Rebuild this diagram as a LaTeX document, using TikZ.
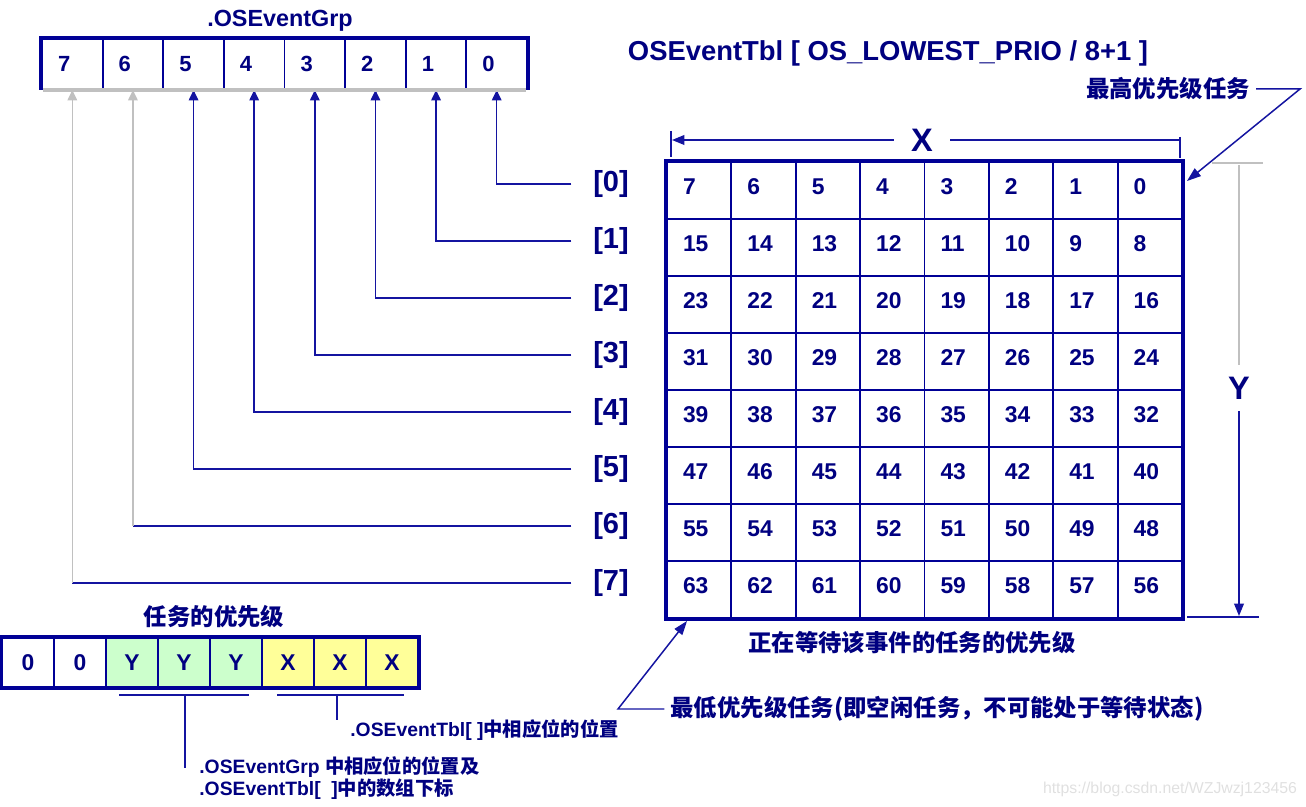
\documentclass[tikz,border=0pt]{standalone}
\usepackage{fontspec}
\setmainfont{Liberation Sans}
\newfontfamily\cjk{Noto Sans CJK SC}
\usetikzlibrary{arrows.meta,positioning}
\definecolor{osblue}{RGB}{0,0,128}
\definecolor{osline}{RGB}{20,20,160}
\definecolor{osborder}{RGB}{0,0,150}
\definecolor{osgray}{RGB}{192,192,192}
\definecolor{osgreen}{RGB}{204,255,204}
\definecolor{osyellow}{RGB}{255,255,153}

\begin{document}
\begin{tikzpicture}[
  x=0.02cm,y=-0.02cm,
  font=\bfseries,text=osblue,
  grpcell/.style={draw=osborder,line width=1.1pt,minimum width=1.2125cm,minimum height=1cm,
                  inner xsep=0.32cm,text width=0.5725cm,align=left,
                  font=\bfseries\fontsize{12.5}{15}\selectfont},
  tblcell/.style={draw=osborder,line width=1.1pt,minimum width=1.2875cm,minimum height=1.14cm,
                  inner xsep=0.32cm,text width=0.6475cm,align=left,text depth=0.16cm,
                  font=\bfseries\fontsize{13}{15}\selectfont},
  pricell/.style={draw=osborder,line width=1.1pt,minimum width=1.04cm,minimum height=0.98cm,
                  font=\bfseries\fontsize{13}{15}\selectfont},
  rowlbl/.style={inner sep=0pt,font=\bfseries\fontsize{16.5}{18}\selectfont},
  dimlbl/.style={inner xsep=0.34cm,inner ysep=0.23cm,font=\bfseries\fontsize{18.5}{20}\selectfont},
  lbl/.style={font=\bfseries\fontsize{13.3}{16}\selectfont},
  titlelbl/.style={font=\bfseries\fontsize{15.6}{18}\selectfont},
  zhlbl/.style={font=\bfseries\cjk\fontsize{13.3}{16}\selectfont},
  note/.style={inner sep=0pt,align=left,font=\bfseries\fontsize{11}{13}\selectfont},
  outerline/.style={draw=osborder,line width=2.3pt},
  bluewire/.style={draw=osline,line width=0.85pt},
  graywire/.style={draw=osgray,line width=0.85pt},
  bitarrow/.style={bluewire,-{Triangle[length=6pt,width=5.5pt]}},
  grayarrow/.style={graywire,-{Triangle[length=6pt,width=5.5pt]}},
  dimarrow/.style={bluewire,-{Triangle[length=7pt,width=5.5pt]}},
  annarrow/.style={bluewire,-{Triangle[length=8pt,width=5.5pt]}}
]
\useasboundingbox (0,0) rectangle (1306,807);

% OSEventGrp
\foreach \b in {0,...,7}
  \node[grpcell] (g\b) at ({42+60.625*(7.5-\b)},64) {\b};
\draw[outerline] (g7.south west) -- (g7.north west) -- (g0.north east) -- (g0.south east);
\node[lbl] (grpname) at (280,21) {.OSEventGrp};

% OSEventTbl
\foreach \r in {0,...,7}
  \foreach \c in {0,...,7}{
    \pgfmathtruncatemacro{\n}{8*\r+7-\c}
    \node[tblcell] (tc\n) at ({667+64.375*(\c+0.5)},{162+57*(\r+0.5)}) {\n};
  }
\draw[outerline] (tc7.north west) rectangle (tc56.south east);
\node[titlelbl] (tblname) at (888,53) {OSEventTbl [ OS\_LOWEST\_PRIO / 8+1 ]};

% row index and links to the group bits
\foreach \k in {0,...,7}
  \node[rowlbl] (row\k) at (611,{184+57*\k}) {[\k]};
\foreach \k in {0,...,5}
  \draw[bitarrow,shorten <=0.43cm] (row\k.west) -| (g\k.south);
\foreach \k in {6,7}{
  \coordinate (turn\k) at (g\k.south |- row\k.west);
  \draw[bluewire,shorten <=0.43cm] (row\k.west) -- (turn\k);
  \draw[grayarrow] (turn\k) -- (g\k.south);
}
\draw[osgray,line width=2.6pt,shorten <=1.1pt,shorten >=1.1pt] (g7.south west) -- (g0.south east);

% X and Y
\node[dimlbl] (xdim) at (922,140) {X};
\coordinate (xdl) at (672,140);
\coordinate (xdr) at (1180,140);
\draw[dimarrow] (xdim) -- (xdl);
\draw[bluewire] (xdim) -- (xdr);
\draw[bluewire] (671,131) -- (671,157);
\draw[bluewire] (1180,137) -- (1180,158);
\node[dimlbl] (ydim) at (1239,388) {Y};
\coordinate (ydt) at (1239,165);
\coordinate (ydb) at (1239,616);
\draw[graywire] (ydim) -- (ydt);
\draw[dimarrow] (ydim) -- (ydb);
\draw[graywire] (1212,163) -- (1263,163);
\draw[bluewire] (1187,617) -- (1259,617);

% notes on the table
\node[zhlbl] (hinote) at (1168,89) {最高优先级任务};
\coordinate (hibend) at (1300,89);
\draw[annarrow] (hinote.east) -- (hibend) -- ([xshift=0.08cm,yshift=-0.4cm]tc0.north east);
\node[zhlbl] (waitnote) at (912,643) {正在等待该事件的任务的优先级};
\node[zhlbl] (lonote) at (937,709) {最低优先级任务(即空闲任务，不可能处于等待状态)};
\coordinate (lobend) at (618,709);
\draw[annarrow] (lonote.west) -- (lobend) -- ([xshift=0.42cm,yshift=-0.04cm]tc63.south west);

% task priority
\foreach \j/\bitval/\bitfill in {0/0/white,1/0/white,2/Y/osgreen,3/Y/osgreen,4/Y/osgreen,5/X/osyellow,6/X/osyellow,7/X/osyellow}
  \node[pricell,fill=\bitfill] (p\j) at ({28+52*\j},662.5) {\bitval};
\draw[outerline] (p0.north west) rectangle (p7.south east);
\node[zhlbl] (prioname) at (214,617) {任务的优先级};

\coordinate (ygl) at (119,695);
\coordinate (ygr) at (249,695);
\coordinate (ygm) at (185,695);
\coordinate (ygend) at (185,768);
\draw[bluewire] (ygl) -- (ygr);
\draw[bluewire] (ygm) -- (ygend);
\coordinate (xgl) at (277,695);
\coordinate (xgr) at (404,695);
\coordinate (xgm) at (337,695);
\coordinate (xgend) at (337,720);
\draw[bluewire] (xgl) -- (xgr);
\draw[bluewire] (xgm) -- (xgend);
\node[note,anchor=west] (tblnote) at (350,730) {.OSEventTbl[ ]{\cjk 中相应位的位置}};
\node[note,anchor=west] (grpnote) at (199,778)
  {.OSEventGrp {\cjk 中相应位的位置及}\\.OSEventTbl[\ \ ]{\cjk 中的数组下标}};

\node[font=\fontsize{9}{10}\selectfont,text=black!12] (mark) at (1170,789) {https://blog.csdn.net/WZJwzj123456};
\end{tikzpicture}
\end{document}
